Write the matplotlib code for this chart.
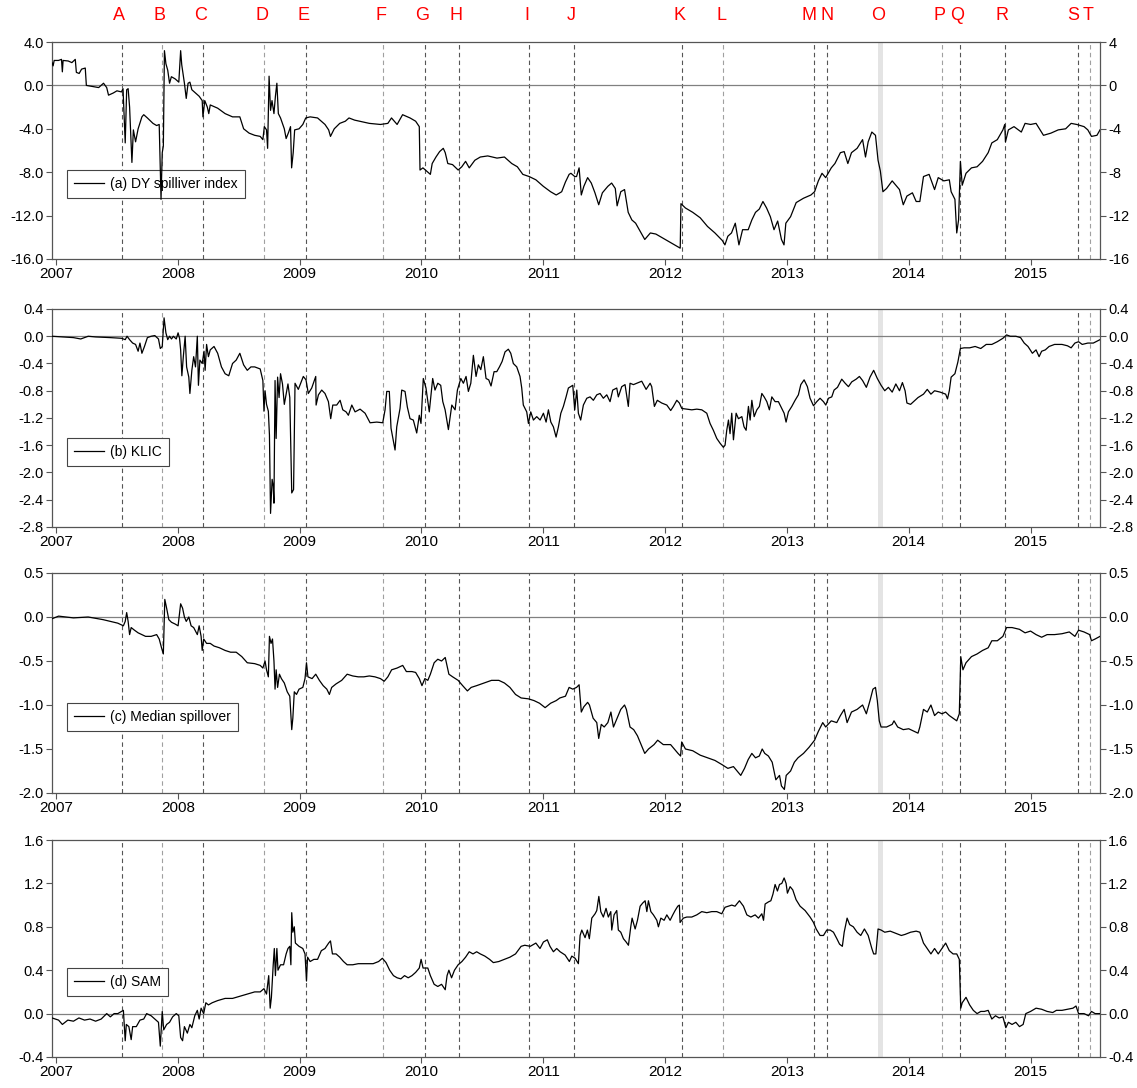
import matplotlib
matplotlib.use('Agg')
import matplotlib.pyplot as plt
import matplotlib.transforms as mtransforms
from matplotlib.ticker import FixedLocator, FormatStrFormatter

plt.rcParams['font.family'] = ['Liberation Sans', 'DejaVu Sans']

# event markers (decimal years)
event_labels = ['A', 'B', 'C', 'D', 'E', 'F', 'G', 'H', 'I', 'J',
                'K', 'L', 'M', 'N', 'O', 'P', 'Q', 'R', 'S', 'T']
event_dates = [2007.538, 2007.872, 2008.206, 2008.707, 2009.050, 2009.685,
               2010.028, 2010.307, 2010.884, 2011.252, 2012.136, 2012.479,
               2013.224, 2013.330, 2013.767, 2014.273, 2014.424, 2014.788,
               2015.391, 2015.491]
light_events = ['B', 'D', 'F', 'L', 'P', 'T']
shade_start, shade_end = 2013.745, 2013.790   # event O is a shaded window

years = list(range(2007, 2016))

# (a) DY spillover index
dy_index = [
    (2006.967, 2.1), (2006.976, 1.8), (2006.985, 2.3), (2007.020, 2.3), (2007.045, 2.4),
    (2007.052, 1.25), (2007.058, 2.3), (2007.100, 2.25), (2007.130, 2.1), (2007.158, 2.4),
    (2007.167, 1.2), (2007.190, 1.1), (2007.210, 1.5), (2007.240, 1.6), (2007.249, 0.0),
    (2007.300, -0.1), (2007.350, -0.2), (2007.390, 0.2), (2007.416, -0.2), (2007.431, -0.9),
    (2007.470, -0.7), (2007.500, -0.5), (2007.537, -0.6), (2007.550, -0.3), (2007.568, -5.3),
    (2007.580, -0.4), (2007.592, -0.3), (2007.604, -2.0), (2007.623, -7.1), (2007.635, -4.1),
    (2007.653, -5.2), (2007.674, -4.0), (2007.705, -2.9), (2007.720, -2.7), (2007.750, -3.0),
    (2007.796, -3.5), (2007.826, -3.7), (2007.847, -3.6), (2007.856, -7.9), (2007.862, -10.5),
    (2007.872, -6.2), (2007.881, -5.6), (2007.890, 3.2), (2007.902, 2.0), (2007.917, 1.4),
    (2007.932, 0.2), (2007.947, 0.8), (2007.978, 0.6), (2008.008, 0.3), (2008.023, 3.2),
    (2008.032, 1.9), (2008.054, 0.2), (2008.069, -1.2), (2008.084, 0.2), (2008.099, 0.3),
    (2008.115, -0.4), (2008.145, -0.7), (2008.175, -1.0), (2008.200, -1.4), (2008.206, -2.9),
    (2008.221, -1.4), (2008.242, -2.0), (2008.254, -2.6), (2008.266, -1.8), (2008.327, -2.1),
    (2008.388, -2.6), (2008.449, -2.9), (2008.509, -2.9), (2008.540, -4.0), (2008.585, -4.4),
    (2008.631, -4.6), (2008.676, -4.7), (2008.698, -5.0), (2008.710, -3.8), (2008.728, -4.1),
    (2008.737, -5.8), (2008.749, 0.85), (2008.761, -2.3), (2008.773, -1.4), (2008.789, -2.6),
    (2008.801, -1.0), (2008.813, 0.2), (2008.825, -2.6), (2008.843, -3.0), (2008.874, -4.0),
    (2008.889, -4.9), (2008.910, -4.3), (2008.925, -3.8), (2008.934, -7.6), (2008.947, -6.2),
    (2008.959, -4.1), (2008.995, -4.0), (2009.026, -3.6), (2009.050, -3.0), (2009.086, -2.9),
    (2009.147, -3.0), (2009.208, -3.6), (2009.238, -4.1), (2009.253, -4.7), (2009.284, -4.0),
    (2009.329, -3.5), (2009.375, -3.3), (2009.405, -3.0), (2009.451, -3.2), (2009.572, -3.5),
    (2009.663, -3.6), (2009.724, -3.5), (2009.754, -3.0), (2009.800, -3.6), (2009.845, -2.7),
    (2009.906, -3.0), (2009.952, -3.3), (2009.982, -3.8), (2009.988, -7.8), (2010.012, -7.6),
    (2010.043, -7.9), (2010.073, -8.2), (2010.088, -7.2), (2010.119, -6.6), (2010.149, -6.1),
    (2010.179, -5.8), (2010.195, -6.2), (2010.216, -7.2), (2010.255, -7.3), (2010.301, -7.8),
    (2010.331, -7.5), (2010.362, -7.0), (2010.392, -7.6), (2010.438, -6.9), (2010.483, -6.6),
    (2010.544, -6.5), (2010.620, -6.7), (2010.681, -6.6), (2010.741, -7.2), (2010.787, -7.5),
    (2010.832, -8.2), (2010.884, -8.4), (2010.939, -8.7), (2011.000, -9.3), (2011.060, -9.8),
    (2011.106, -10.1), (2011.151, -9.8), (2011.182, -8.9), (2011.212, -8.2), (2011.227, -8.1),
    (2011.258, -8.4), (2011.273, -8.4), (2011.294, -7.6), (2011.312, -10.1), (2011.333, -9.3),
    (2011.364, -8.5), (2011.394, -9.0), (2011.424, -9.9), (2011.455, -11.0), (2011.485, -9.9),
    (2011.530, -9.3), (2011.561, -9.0), (2011.591, -9.5), (2011.606, -11.1), (2011.636, -9.8),
    (2011.667, -9.6), (2011.697, -11.7), (2011.727, -12.4), (2011.758, -12.7), (2011.788, -13.3),
    (2011.833, -14.2), (2011.879, -13.6), (2011.924, -13.7), (2011.970, -14.0), (2012.015, -14.3),
    (2012.076, -14.7), (2012.124, -15.0), (2012.130, -10.9), (2012.167, -11.3), (2012.227, -11.7),
    (2012.288, -12.2), (2012.348, -13.0), (2012.409, -13.6), (2012.470, -14.3), (2012.491, -14.7),
    (2012.515, -13.9), (2012.545, -13.6), (2012.576, -12.7), (2012.606, -14.7), (2012.636, -13.3),
    (2012.682, -13.3), (2012.712, -12.4), (2012.742, -11.7), (2012.773, -11.4), (2012.803, -10.7),
    (2012.833, -11.3), (2012.864, -12.1), (2012.894, -13.3), (2012.924, -12.5), (2012.955, -14.2),
    (2012.976, -14.7), (2012.991, -12.7), (2013.030, -12.1), (2013.076, -10.8), (2013.136, -10.4),
    (2013.197, -10.1), (2013.227, -9.8), (2013.258, -8.8), (2013.288, -8.1), (2013.318, -8.5),
    (2013.364, -7.6), (2013.394, -7.2), (2013.439, -6.2), (2013.470, -6.1), (2013.500, -7.2),
    (2013.530, -6.2), (2013.576, -5.8), (2013.621, -5.0), (2013.645, -6.6), (2013.667, -5.2),
    (2013.697, -4.3), (2013.727, -4.6), (2013.748, -6.9), (2013.767, -7.9), (2013.788, -9.8),
    (2013.818, -9.5), (2013.864, -8.8), (2013.894, -9.2), (2013.924, -9.6), (2013.955, -11.0),
    (2013.985, -10.2), (2014.030, -9.9), (2014.061, -10.7), (2014.091, -10.7), (2014.121, -8.4),
    (2014.167, -8.2), (2014.212, -9.6), (2014.242, -8.5), (2014.288, -8.8), (2014.333, -8.7),
    (2014.348, -9.8), (2014.379, -10.5), (2014.394, -13.6), (2014.409, -12.4), (2014.424, -7.0),
    (2014.439, -9.2), (2014.470, -8.1), (2014.515, -7.6), (2014.561, -7.5), (2014.606, -7.0),
    (2014.652, -6.2), (2014.682, -5.3), (2014.727, -5.0), (2014.773, -4.1), (2014.788, -3.6),
    (2014.794, -5.2), (2014.818, -4.1), (2014.864, -3.8), (2014.924, -4.3), (2014.955, -3.5),
    (2015.000, -3.6), (2015.045, -3.5), (2015.106, -4.6), (2015.167, -4.4), (2015.227, -4.1),
    (2015.288, -4.0), (2015.333, -3.5), (2015.379, -3.6), (2015.439, -3.8), (2015.470, -4.1),
    (2015.500, -4.7), (2015.545, -4.6), (2015.570, -4.1),
]

# (b) KLIC
klic = [
    (2006.967, 0.0), (2007.143, -0.02), (2007.203, -0.04), (2007.264, 0.0), (2007.325, -0.01),
    (2007.446, -0.02), (2007.538, -0.03), (2007.568, -0.05), (2007.583, 0.0), (2007.604, -0.05),
    (2007.629, -0.1), (2007.653, -0.12), (2007.674, -0.22), (2007.689, -0.1), (2007.705, -0.25),
    (2007.726, -0.15), (2007.750, -0.02), (2007.781, 0.0), (2007.811, 0.01), (2007.841, -0.04),
    (2007.856, -0.18), (2007.872, -0.15), (2007.887, 0.27), (2007.902, 0.05), (2007.917, -0.05),
    (2007.932, 0.0), (2007.948, -0.04), (2007.963, 0.0), (2007.987, -0.04), (2008.002, 0.05),
    (2008.014, -0.03), (2008.023, -0.2), (2008.033, -0.58), (2008.045, -0.3), (2008.060, 0.0),
    (2008.072, -0.45), (2008.090, -0.6), (2008.099, -0.84), (2008.115, -0.5), (2008.130, -0.3),
    (2008.145, -0.45), (2008.160, 0.0), (2008.169, -0.72), (2008.181, -0.35), (2008.200, -0.4),
    (2008.215, -0.22), (2008.224, -0.5), (2008.236, -0.12), (2008.251, -0.3), (2008.266, -0.2),
    (2008.297, -0.15), (2008.327, -0.25), (2008.358, -0.45), (2008.388, -0.55), (2008.418, -0.58),
    (2008.449, -0.4), (2008.479, -0.35), (2008.509, -0.25), (2008.540, -0.42), (2008.570, -0.5),
    (2008.600, -0.45), (2008.631, -0.45), (2008.676, -0.48), (2008.698, -0.65), (2008.707, -1.1),
    (2008.716, -0.8), (2008.728, -1.0), (2008.743, -1.1), (2008.752, -1.45), (2008.761, -2.6),
    (2008.774, -2.1), (2008.783, -2.2), (2008.789, -2.45), (2008.798, -0.65), (2008.807, -1.5),
    (2008.819, -0.6), (2008.831, -0.9), (2008.843, -0.55), (2008.859, -0.7), (2008.874, -1.0),
    (2008.889, -0.85), (2008.904, -0.7), (2008.919, -0.9), (2008.935, -2.3), (2008.950, -2.25),
    (2008.962, -0.69), (2008.989, -0.78), (2009.030, -0.59), (2009.052, -0.64), (2009.071, -0.84),
    (2009.099, -0.76), (2009.132, -0.59), (2009.135, -1.01), (2009.154, -0.86), (2009.181, -0.79),
    (2009.208, -0.84), (2009.236, -0.96), (2009.255, -1.21), (2009.272, -1.01), (2009.304, -1.01),
    (2009.332, -0.94), (2009.354, -1.08), (2009.381, -1.11), (2009.400, -1.16), (2009.428, -1.01),
    (2009.455, -1.11), (2009.496, -1.07), (2009.537, -1.13), (2009.578, -1.27), (2009.633, -1.26),
    (2009.682, -1.27), (2009.701, -1.08), (2009.715, -0.81), (2009.736, -0.81), (2009.750, -1.35),
    (2009.783, -1.67), (2009.797, -1.33), (2009.824, -1.06), (2009.838, -0.79), (2009.865, -0.81),
    (2009.884, -1.04), (2009.906, -1.21), (2009.933, -1.23), (2009.961, -1.42), (2009.982, -1.16),
    (2009.996, -1.28), (2010.015, -0.62), (2010.037, -0.76), (2010.064, -1.11), (2010.092, -0.62),
    (2010.111, -0.79), (2010.134, -0.69), (2010.158, -0.72), (2010.175, -0.96), (2010.194, -1.08),
    (2010.221, -1.37), (2010.249, -1.01), (2010.276, -1.08), (2010.295, -0.79), (2010.323, -0.62),
    (2010.344, -0.69), (2010.366, -0.59), (2010.385, -0.81), (2010.405, -0.69), (2010.426, -0.28),
    (2010.448, -0.59), (2010.467, -0.42), (2010.487, -0.49), (2010.508, -0.30), (2010.530, -0.62),
    (2010.552, -0.64), (2010.571, -0.73), (2010.596, -0.52), (2010.618, -0.52), (2010.640, -0.45),
    (2010.662, -0.37), (2010.686, -0.23), (2010.713, -0.19), (2010.733, -0.25), (2010.754, -0.40),
    (2010.782, -0.45), (2010.809, -0.59), (2010.823, -0.76), (2010.836, -1.01), (2010.864, -1.11),
    (2010.878, -1.28), (2010.897, -1.11), (2010.919, -1.23), (2010.946, -1.18), (2010.974, -1.23),
    (2011.001, -1.13), (2011.023, -1.26), (2011.042, -1.08), (2011.062, -1.26), (2011.083, -1.33),
    (2011.105, -1.48), (2011.124, -1.33), (2011.144, -1.13), (2011.165, -1.03), (2011.187, -0.89),
    (2011.206, -0.76), (2011.242, -0.72), (2011.258, -1.08), (2011.275, -0.79), (2011.288, -1.13),
    (2011.307, -1.23), (2011.329, -1.01), (2011.357, -0.91), (2011.384, -0.89), (2011.411, -0.94),
    (2011.439, -0.86), (2011.466, -0.84), (2011.493, -0.91), (2011.521, -0.86), (2011.548, -0.96),
    (2011.570, -0.79), (2011.603, -0.76), (2011.616, -0.89), (2011.644, -0.74), (2011.671, -0.71),
    (2011.698, -1.03), (2011.712, -0.69), (2011.740, -0.71), (2011.767, -0.69), (2011.808, -0.66),
    (2011.844, -0.78), (2011.877, -0.69), (2011.890, -0.74), (2011.912, -1.03), (2011.936, -0.94),
    (2011.972, -0.98), (2012.014, -1.01), (2012.046, -1.09), (2012.068, -1.03), (2012.096, -0.94),
    (2012.117, -0.98), (2012.137, -1.06), (2012.178, -1.07), (2012.219, -1.08), (2012.260, -1.07),
    (2012.301, -1.08), (2012.342, -1.13), (2012.369, -1.28), (2012.396, -1.38), (2012.424, -1.50),
    (2012.451, -1.57), (2012.478, -1.63), (2012.492, -1.60), (2012.506, -1.38), (2012.520, -1.23),
    (2012.533, -1.43), (2012.547, -1.13), (2012.561, -1.52), (2012.583, -1.13), (2012.602, -1.21),
    (2012.630, -1.18), (2012.648, -1.33), (2012.665, -1.38), (2012.684, -1.03), (2012.698, -1.23),
    (2012.712, -0.94), (2012.731, -1.18), (2012.753, -1.08), (2012.774, -1.03), (2012.794, -0.84),
    (2012.813, -0.89), (2012.835, -0.96), (2012.856, -1.08), (2012.876, -0.89), (2012.903, -0.96),
    (2012.930, -0.96), (2012.958, -1.06), (2012.977, -1.13), (2012.993, -1.26), (2013.012, -1.11),
    (2013.040, -1.03), (2013.067, -0.94), (2013.094, -0.86), (2013.114, -0.71), (2013.141, -0.64),
    (2013.168, -0.74), (2013.190, -0.91), (2013.218, -1.02), (2013.245, -0.96), (2013.272, -0.91),
    (2013.300, -0.96), (2013.319, -1.01), (2013.341, -0.91), (2013.368, -0.89), (2013.387, -0.79),
    (2013.415, -0.75), (2013.450, -0.63), (2013.478, -0.69), (2013.505, -0.74), (2013.532, -0.67),
    (2013.568, -0.63), (2013.595, -0.59), (2013.621, -0.65), (2013.652, -0.75), (2013.682, -0.6),
    (2013.712, -0.5), (2013.742, -0.62), (2013.773, -0.72), (2013.803, -0.8), (2013.833, -0.75),
    (2013.864, -0.82), (2013.894, -0.7), (2013.924, -0.8), (2013.948, -0.68), (2013.970, -0.8),
    (2013.985, -0.98), (2014.015, -1.0), (2014.045, -0.95), (2014.076, -0.9), (2014.121, -0.85),
    (2014.152, -0.78), (2014.182, -0.85), (2014.212, -0.8), (2014.258, -0.82), (2014.303, -0.85),
    (2014.318, -0.92), (2014.333, -0.8), (2014.348, -0.6), (2014.379, -0.55), (2014.403, -0.38),
    (2014.424, -0.18), (2014.455, -0.17), (2014.500, -0.17), (2014.545, -0.15), (2014.591, -0.18),
    (2014.636, -0.12), (2014.682, -0.12), (2014.727, -0.08), (2014.773, -0.03), (2014.803, 0.02),
    (2014.833, 0.0), (2014.879, 0.0), (2014.918, -0.02), (2014.948, -0.1), (2014.979, -0.15),
    (2015.015, -0.25), (2015.045, -0.2), (2015.070, -0.3), (2015.091, -0.22), (2015.121, -0.2),
    (2015.152, -0.15), (2015.197, -0.12), (2015.258, -0.12), (2015.303, -0.14), (2015.333, -0.17),
    (2015.364, -0.1), (2015.394, -0.08), (2015.424, -0.12), (2015.470, -0.1), (2015.515, -0.1),
    (2015.570, -0.05),
]

# (c) Median spillover
median_spill = [
    (2006.967, -0.02), (2007.021, 0.01), (2007.143, -0.01), (2007.264, 0.0), (2007.386, -0.03),
    (2007.446, -0.05), (2007.507, -0.07), (2007.553, -0.1), (2007.568, -0.05), (2007.580, 0.05),
    (2007.592, -0.05), (2007.604, -0.2), (2007.617, -0.12), (2007.644, -0.15), (2007.674, -0.18),
    (2007.705, -0.2), (2007.735, -0.22), (2007.781, -0.22), (2007.826, -0.2), (2007.847, -0.25),
    (2007.866, -0.35), (2007.881, -0.42), (2007.893, 0.2), (2007.908, 0.1), (2007.926, -0.03),
    (2007.948, -0.06), (2007.978, -0.08), (2008.002, -0.1), (2008.023, 0.15), (2008.039, 0.1),
    (2008.054, 0.0), (2008.069, -0.05), (2008.090, 0.0), (2008.109, -0.1), (2008.130, -0.12),
    (2008.160, -0.2), (2008.175, -0.1), (2008.191, -0.22), (2008.200, -0.38), (2008.212, -0.25),
    (2008.236, -0.3), (2008.266, -0.3), (2008.297, -0.33), (2008.342, -0.35), (2008.388, -0.38),
    (2008.433, -0.4), (2008.479, -0.4), (2008.525, -0.45), (2008.570, -0.52), (2008.631, -0.53),
    (2008.676, -0.55), (2008.698, -0.58), (2008.716, -0.5), (2008.728, -0.6), (2008.743, -0.68),
    (2008.752, -0.22), (2008.765, -0.3), (2008.777, -0.25), (2008.789, -0.5), (2008.798, -0.82),
    (2008.807, -0.6), (2008.819, -0.8), (2008.834, -0.65), (2008.850, -0.7), (2008.874, -0.75),
    (2008.898, -0.85), (2008.919, -0.9), (2008.935, -1.28), (2008.944, -1.15), (2008.956, -0.85),
    (2008.974, -0.88), (2008.995, -0.82), (2009.026, -0.8), (2009.044, -0.7), (2009.056, -0.52),
    (2009.068, -0.68), (2009.102, -0.7), (2009.132, -0.65), (2009.162, -0.72), (2009.193, -0.78),
    (2009.223, -0.82), (2009.244, -0.88), (2009.263, -0.8), (2009.299, -0.76), (2009.345, -0.72),
    (2009.390, -0.65), (2009.436, -0.67), (2009.481, -0.68), (2009.527, -0.68), (2009.572, -0.67),
    (2009.618, -0.68), (2009.663, -0.7), (2009.694, -0.73), (2009.724, -0.68), (2009.755, -0.6),
    (2009.800, -0.58), (2009.846, -0.55), (2009.876, -0.62), (2009.922, -0.62), (2009.952, -0.63),
    (2009.982, -0.7), (2010.004, -0.78), (2010.028, -0.7), (2010.052, -0.72), (2010.073, -0.65),
    (2010.104, -0.52), (2010.134, -0.48), (2010.165, -0.5), (2010.195, -0.46), (2010.225, -0.65),
    (2010.256, -0.68), (2010.301, -0.72), (2010.338, -0.78), (2010.377, -0.84), (2010.408, -0.8),
    (2010.453, -0.78), (2010.514, -0.75), (2010.575, -0.72), (2010.635, -0.72), (2010.681, -0.75),
    (2010.726, -0.8), (2010.772, -0.88), (2010.818, -0.92), (2010.878, -0.93), (2010.924, -0.95),
    (2010.969, -0.98), (2011.015, -1.03), (2011.060, -0.98), (2011.106, -0.95), (2011.136, -0.92),
    (2011.182, -0.9), (2011.212, -0.8), (2011.242, -0.82), (2011.273, -0.8), (2011.294, -0.77),
    (2011.312, -1.08), (2011.333, -1.02), (2011.364, -0.97), (2011.379, -1.0), (2011.409, -1.15),
    (2011.439, -1.2), (2011.455, -1.38), (2011.476, -1.22), (2011.500, -1.25), (2011.530, -1.2),
    (2011.555, -1.08), (2011.576, -1.25), (2011.606, -1.15), (2011.636, -1.05), (2011.667, -1.0),
    (2011.682, -1.05), (2011.712, -1.25), (2011.742, -1.28), (2011.773, -1.35), (2011.803, -1.45),
    (2011.833, -1.55), (2011.864, -1.5), (2011.909, -1.45), (2011.939, -1.4), (2011.985, -1.45),
    (2012.045, -1.45), (2012.076, -1.5), (2012.106, -1.55), (2012.127, -1.58), (2012.136, -1.42),
    (2012.167, -1.5), (2012.227, -1.52), (2012.288, -1.57), (2012.348, -1.6), (2012.409, -1.63),
    (2012.470, -1.68), (2012.515, -1.72), (2012.561, -1.7), (2012.591, -1.75), (2012.621, -1.8),
    (2012.652, -1.72), (2012.682, -1.62), (2012.712, -1.55), (2012.742, -1.6), (2012.773, -1.58),
    (2012.797, -1.5), (2012.818, -1.55), (2012.848, -1.58), (2012.879, -1.65), (2012.909, -1.85),
    (2012.939, -1.8), (2012.955, -1.92), (2012.979, -1.96), (2012.994, -1.8), (2013.030, -1.75),
    (2013.061, -1.65), (2013.091, -1.6), (2013.136, -1.55), (2013.182, -1.48), (2013.227, -1.4),
    (2013.258, -1.3), (2013.294, -1.2), (2013.318, -1.25), (2013.364, -1.18), (2013.409, -1.2),
    (2013.439, -1.12), (2013.470, -1.05), (2013.494, -1.2), (2013.530, -1.08), (2013.576, -1.05),
    (2013.621, -1.0), (2013.652, -1.1), (2013.682, -0.95), (2013.706, -0.82), (2013.727, -0.8),
    (2013.742, -0.95), (2013.758, -1.18), (2013.773, -1.25), (2013.818, -1.25), (2013.864, -1.22),
    (2013.879, -1.18), (2013.909, -1.25), (2013.955, -1.28), (2014.000, -1.27), (2014.045, -1.3),
    (2014.076, -1.32), (2014.091, -1.25), (2014.121, -1.05), (2014.152, -1.08), (2014.182, -1.0),
    (2014.212, -1.12), (2014.242, -1.08), (2014.273, -1.1), (2014.303, -1.08), (2014.333, -1.12),
    (2014.364, -1.15), (2014.394, -1.18), (2014.415, -1.1), (2014.427, -0.45), (2014.445, -0.6),
    (2014.470, -0.52), (2014.515, -0.45), (2014.561, -0.42), (2014.606, -0.38), (2014.652, -0.35),
    (2014.682, -0.27), (2014.727, -0.27), (2014.773, -0.22), (2014.803, -0.12), (2014.848, -0.12),
    (2014.909, -0.14), (2014.955, -0.18), (2015.000, -0.16), (2015.045, -0.2), (2015.091, -0.23),
    (2015.136, -0.2), (2015.197, -0.2), (2015.258, -0.19), (2015.318, -0.17), (2015.364, -0.22),
    (2015.394, -0.15), (2015.439, -0.17), (2015.485, -0.2), (2015.500, -0.27), (2015.530, -0.25),
    (2015.570, -0.22),
]

# (d) SAM
sam = [
    (2006.967, -0.04), (2007.021, -0.06), (2007.052, -0.1), (2007.097, -0.06), (2007.143, -0.07),
    (2007.188, -0.04), (2007.234, -0.06), (2007.279, -0.05), (2007.325, -0.07), (2007.371, -0.05),
    (2007.416, 0.0), (2007.446, -0.03), (2007.477, 0.0), (2007.507, 0.0), (2007.538, 0.02),
    (2007.553, 0.03), (2007.568, -0.25), (2007.577, -0.1), (2007.598, -0.12), (2007.617, -0.24),
    (2007.629, -0.12), (2007.659, -0.12), (2007.689, -0.06), (2007.720, -0.05), (2007.744, 0.0),
    (2007.781, -0.02), (2007.811, -0.05), (2007.841, -0.08), (2007.856, -0.3), (2007.872, 0.02),
    (2007.884, -0.15), (2007.908, -0.1), (2007.932, -0.08), (2007.957, -0.03), (2007.987, 0.0),
    (2008.008, -0.02), (2008.023, -0.22), (2008.039, -0.25), (2008.054, -0.12), (2008.078, -0.18),
    (2008.099, -0.1), (2008.115, -0.13), (2008.139, -0.02), (2008.160, 0.03), (2008.175, -0.05),
    (2008.191, 0.05), (2008.212, 0.0), (2008.230, 0.1), (2008.251, 0.08), (2008.282, 0.1),
    (2008.327, 0.12), (2008.388, 0.14), (2008.449, 0.14), (2008.509, 0.16), (2008.570, 0.18),
    (2008.631, 0.2), (2008.676, 0.2), (2008.707, 0.23), (2008.728, 0.18), (2008.746, 0.35),
    (2008.758, 0.05), (2008.768, 0.15), (2008.783, 0.45), (2008.792, 0.6), (2008.801, 0.35),
    (2008.813, 0.6), (2008.822, 0.4), (2008.843, 0.45), (2008.868, 0.45), (2008.889, 0.55),
    (2008.904, 0.6), (2008.919, 0.62), (2008.928, 0.45), (2008.935, 0.93), (2008.944, 0.75),
    (2008.956, 0.8), (2008.965, 0.65), (2008.995, 0.62), (2009.026, 0.6), (2009.044, 0.55),
    (2009.056, 0.3), (2009.065, 0.52), (2009.086, 0.48), (2009.117, 0.5), (2009.147, 0.5),
    (2009.178, 0.58), (2009.208, 0.6), (2009.238, 0.65), (2009.253, 0.67), (2009.269, 0.55),
    (2009.299, 0.55), (2009.329, 0.52), (2009.360, 0.48), (2009.390, 0.45), (2009.436, 0.45),
    (2009.481, 0.46), (2009.542, 0.46), (2009.603, 0.46), (2009.648, 0.48), (2009.679, 0.51),
    (2009.709, 0.47), (2009.739, 0.4), (2009.770, 0.35), (2009.800, 0.33), (2009.831, 0.32),
    (2009.861, 0.35), (2009.891, 0.33), (2009.922, 0.35), (2009.952, 0.38), (2009.982, 0.42),
    (2009.997, 0.5), (2010.013, 0.42), (2010.028, 0.42), (2010.052, 0.42), (2010.073, 0.35),
    (2010.104, 0.27), (2010.134, 0.25), (2010.165, 0.27), (2010.195, 0.22), (2010.210, 0.35),
    (2010.225, 0.4), (2010.247, 0.33), (2010.271, 0.4), (2010.301, 0.45), (2010.332, 0.48),
    (2010.362, 0.52), (2010.392, 0.57), (2010.423, 0.55), (2010.453, 0.57), (2010.483, 0.55),
    (2010.520, 0.53), (2010.559, 0.5), (2010.590, 0.47), (2010.635, 0.48), (2010.681, 0.5),
    (2010.726, 0.52), (2010.772, 0.55), (2010.818, 0.62), (2010.848, 0.63), (2010.893, 0.62),
    (2010.939, 0.65), (2010.973, 0.60), (2011.001, 0.66), (2011.033, 0.68), (2011.055, 0.62),
    (2011.083, 0.57), (2011.110, 0.60), (2011.138, 0.57), (2011.179, 0.54), (2011.214, 0.48),
    (2011.234, 0.53), (2011.261, 0.51), (2011.288, 0.46), (2011.302, 0.72), (2011.316, 0.77),
    (2011.343, 0.70), (2011.362, 0.77), (2011.378, 0.69), (2011.398, 0.88), (2011.425, 0.92),
    (2011.439, 0.95), (2011.456, 1.08), (2011.472, 0.94), (2011.493, 0.89), (2011.515, 0.97),
    (2011.534, 0.89), (2011.554, 0.94), (2011.562, 0.77), (2011.581, 0.91), (2011.603, 0.95),
    (2011.616, 0.77), (2011.636, 0.75), (2011.658, 0.69), (2011.680, 0.66), (2011.699, 0.63),
    (2011.718, 0.80), (2011.729, 0.88), (2011.754, 0.78), (2011.773, 0.86), (2011.795, 0.99),
    (2011.817, 1.02), (2011.836, 1.04), (2011.850, 0.94), (2011.863, 1.04), (2011.883, 0.94),
    (2011.904, 0.91), (2011.932, 0.86), (2011.945, 0.80), (2011.965, 0.88), (2011.992, 0.86),
    (2012.014, 0.91), (2012.041, 0.86), (2012.063, 0.91), (2012.082, 0.95), (2012.104, 0.99),
    (2012.117, 1.00), (2012.123, 0.84), (2012.150, 0.88), (2012.178, 0.89), (2012.219, 0.89),
    (2012.260, 0.91), (2012.301, 0.94), (2012.342, 0.93), (2012.383, 0.94), (2012.424, 0.94),
    (2012.465, 0.92), (2012.492, 0.98), (2012.520, 0.99), (2012.547, 1.00), (2012.574, 0.99),
    (2012.610, 1.04), (2012.643, 0.99), (2012.671, 0.91), (2012.704, 0.89), (2012.739, 0.91),
    (2012.766, 0.88), (2012.794, 0.92), (2012.808, 0.86), (2012.821, 1.01), (2012.849, 1.03),
    (2012.868, 1.04), (2012.885, 1.10), (2012.903, 1.19), (2012.922, 1.13), (2012.939, 1.19),
    (2012.958, 1.20), (2012.977, 1.25), (2012.993, 1.20), (2013.004, 1.11), (2013.026, 1.17),
    (2013.048, 1.14), (2013.075, 1.05), (2013.108, 0.99), (2013.149, 0.95), (2013.190, 0.89),
    (2013.218, 0.84), (2013.240, 0.78), (2013.272, 0.72), (2013.300, 0.72), (2013.327, 0.77),
    (2013.355, 0.77), (2013.382, 0.75), (2013.410, 0.69), (2013.432, 0.64), (2013.455, 0.62),
    (2013.470, 0.75), (2013.494, 0.88), (2013.515, 0.82), (2013.545, 0.8), (2013.576, 0.75),
    (2013.606, 0.72), (2013.636, 0.78), (2013.667, 0.72), (2013.697, 0.6), (2013.712, 0.55),
    (2013.730, 0.55), (2013.748, 0.78), (2013.773, 0.77), (2013.803, 0.75), (2013.848, 0.76),
    (2013.894, 0.74), (2013.939, 0.72), (2013.970, 0.73), (2014.015, 0.75), (2014.061, 0.76),
    (2014.091, 0.75), (2014.121, 0.65), (2014.152, 0.6), (2014.182, 0.55), (2014.212, 0.6),
    (2014.242, 0.55), (2014.273, 0.6), (2014.303, 0.65), (2014.333, 0.58), (2014.364, 0.55),
    (2014.394, 0.55), (2014.415, 0.5), (2014.427, 0.05), (2014.439, 0.1), (2014.470, 0.15),
    (2014.500, 0.08), (2014.530, 0.03), (2014.561, 0.0), (2014.591, 0.02), (2014.621, 0.02),
    (2014.652, 0.03), (2014.682, -0.05), (2014.712, -0.02), (2014.742, -0.04), (2014.773, -0.03),
    (2014.797, -0.13), (2014.818, -0.08), (2014.848, -0.1), (2014.879, -0.08), (2014.909, -0.12),
    (2014.939, -0.1), (2014.961, 0.0), (2015.000, 0.02), (2015.045, 0.05), (2015.091, 0.04),
    (2015.136, 0.02), (2015.182, 0.01), (2015.212, 0.03), (2015.258, 0.03), (2015.303, 0.04),
    (2015.348, 0.05), (2015.373, 0.07), (2015.394, 0.0), (2015.439, 0.0), (2015.476, -0.02),
    (2015.500, 0.02), (2015.530, 0.0), (2015.570, 0.0),
]

panels = [
    (dy_index, '(a) DY spilliver index', (-16, 4), [-16, -12, -8, -4, 0, 4], '%.1f', '%d'),
    (klic, '(b) KLIC', (-2.8, 0.4), [-2.8, -2.4, -2.0, -1.6, -1.2, -0.8, -0.4, 0.0, 0.4], '%.1f', '%.1f'),
    (median_spill, '(c) Median spillover', (-2.0, 0.5), [-2.0, -1.5, -1.0, -0.5, 0.0, 0.5], '%.1f', '%.1f'),
    (sam, '(d) SAM', (-0.4, 1.6), [-0.4, 0.0, 0.4, 0.8, 1.2, 1.6], '%.1f', '%.1f'),
]

# panel boxes in pixels (top, bottom) on a 1137 x 1088 canvas
W, H = 1137, 1088
left_px, right_px = 52, 1100
boxes = [(42, 259), (309, 527), (573, 793), (840, 1057)]
x_min, x_max = 2006.967, 2015.570
frame_col = '#555555'

# letters sit just left of their lines; a few are nudged apart
letter_nudge = {'M': -0.042, 'N': -0.003, 'Q': -0.03, 'S': -0.045, 'T': -0.018}

fig = plt.figure(figsize=(W / 100, H / 100), dpi=100)
axes = []
for (series, label, ylim, yticks, lfmt, rfmt), (top, bot) in zip(panels, boxes):
    ax = fig.add_axes([left_px / W, 1 - bot / H, (right_px - left_px) / W, (bot - top) / H])
    axes.append(ax)

    # shaded window and dashed event lines
    ax.axvspan(shade_start, shade_end, color='#e4e4e4', lw=0, zorder=0)
    for lab, d in zip(event_labels, event_dates):
        if lab == 'O':
            continue
        col = '#a0a0a0' if lab in light_events else '#555555'
        ax.axvline(d, color=col, lw=0.8, ls=(0, (4, 3)), zorder=1)
    ax.axhline(0, color='#808080', lw=0.9, zorder=1)

    xs = [p[0] for p in series]
    ys = [p[1] for p in series]
    ax.plot(xs, ys, color='black', lw=0.9, label=label, zorder=3)

    ax.set_xlim(x_min, x_max)
    ax.set_ylim(*ylim)
    ax.yaxis.set_major_locator(FixedLocator(yticks))
    ax.yaxis.set_major_formatter(FormatStrFormatter(lfmt))
    ax.set_xticks(years)
    ax.set_xticklabels([str(y) for y in years])
    ax.tick_params(axis='y', direction='out', length=4, width=0.8, color=frame_col,
                   labelsize=10.5, pad=2)
    ax.tick_params(axis='x', direction='out', length=4, width=0.8, color=frame_col,
                   labelsize=11, pad=2)
    for sp in ax.spines.values():
        sp.set_color(frame_col)
        sp.set_linewidth(0.9)

    rax = ax.twinx()
    rax.set_ylim(*ylim)
    rax.yaxis.set_major_locator(FixedLocator(yticks))
    rax.yaxis.set_major_formatter(FormatStrFormatter(rfmt))
    rax.tick_params(axis='y', direction='out', length=4, width=0.8, color=frame_col,
                    labelsize=10.5, pad=2)
    for sp in rax.spines.values():
        sp.set_visible(False)

    # legend box hides the dashed lines but the series runs over it
    leg = ax.legend(loc='lower left', bbox_to_anchor=(0.0143, 0.281), borderaxespad=0,
                    fontsize=10, handlelength=2.2, handletextpad=0.4, borderpad=0.5,
                    fancybox=False, framealpha=1, edgecolor='#444444')
    leg.get_frame().set_linewidth(0.8)
    leg.set_zorder(2)

# red event letters across the top
trans = mtransforms.blended_transform_factory(axes[0].transData, fig.transFigure)
for lab, d in zip(event_labels, event_dates):
    axes[0].text(d + letter_nudge.get(lab, -0.02), 1 - 15 / H, lab, transform=trans,
                 color='red', fontsize=13, ha='center', va='center')

fig.savefig('out.png', dpi=100)
